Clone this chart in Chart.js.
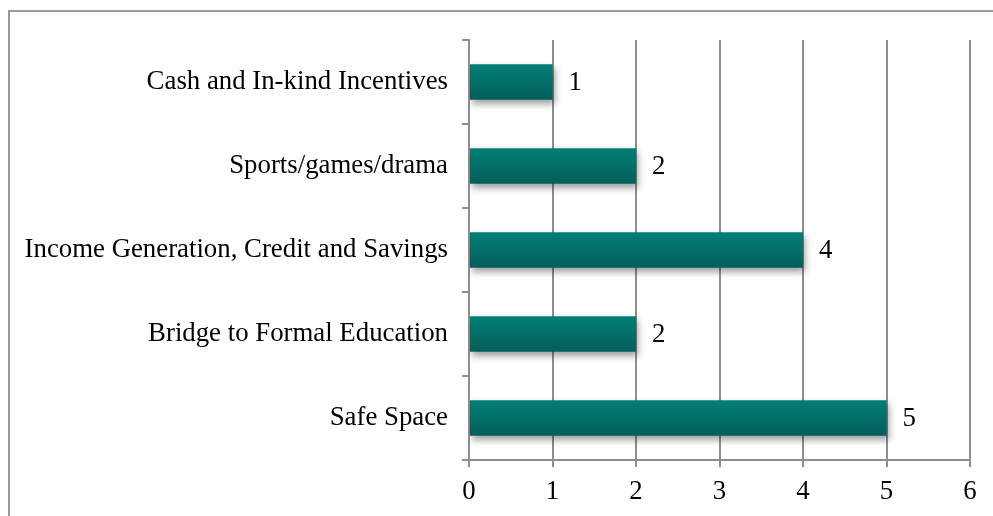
<!DOCTYPE html>
<html>
<head>
<meta charset="utf-8">
<script src="https://cdn.jsdelivr.net/npm/chart.js@4.4.1/dist/chart.umd.min.js"></script>
<style>
  html, body { margin: 0; padding: 0; background: #fff; }
  #wrap { width: 993px; height: 516px; position: relative; }
</style>
</head>
<body>
<div id="wrap"><canvas id="barChart" width="993" height="516"></canvas></div>
<script>
// categorias y valores (de arriba hacia abajo)
const categories = [
    'Cash and In-kind Incentives',
    'Sports/games/drama',
    'Income Generation, Credit and Savings',
    'Bridge to Formal Education',
    'Safe Space'
];
const values = [1, 2, 4, 2, 5];
const xTicks = [0, 1, 2, 3, 4, 5, 6];

const gridColor = '#8e8e8e';
const serif = '"Liberation Serif", "Times New Roman", serif';
const fontSize = 26.8;

// marco exterior (solo arriba e izquierda visibles)
const framePlugin = {
    id: 'frame',
    beforeDraw(chart) {
        const c = chart.ctx;
        c.save();
        c.strokeStyle = '#9a9a9a';
        c.lineWidth = 2;
        c.beginPath();
        c.moveTo(9, 600);
        c.lineTo(9, 11);
        c.lineTo(1100, 11);
        c.stroke();
        c.restore();
    }
};

// degradado y sombra de las barras
const barStyle = {
    id: 'barStyle',
    beforeDatasetsDraw(chart) {
        const c = chart.ctx;
        chart.getDatasetMeta(0).data.forEach(bar => {
            const top = bar.y - bar.height / 2;
            const g = c.createLinearGradient(0, top, 0, top + bar.height);
            g.addColorStop(0, '#017f76');
            g.addColorStop(1, '#035e58');
            bar.options.backgroundColor = g;
        });
        c.save();
        c.shadowColor = 'rgba(0,0,0,0.38)';
        c.shadowBlur = 7;
        c.shadowOffsetX = 2;
        c.shadowOffsetY = 4;
    },
    afterDatasetsDraw(chart) {
        chart.ctx.restore();
    }
};

// etiquetas de valor al final de cada barra
const valueLabels = {
    id: 'valueLabels',
    afterDatasetsDraw(chart) {
        const c = chart.ctx;
        c.save();
        c.font = fontSize + 'px ' + serif;
        c.fillStyle = '#000';
        c.textAlign = 'left';
        c.textBaseline = 'middle';
        chart.getDatasetMeta(0).data.forEach((bar, i) => {
            c.fillText(String(values[i]), bar.x + 16, bar.y + 1);
        });
        c.restore();
    }
};

const ctx = document.getElementById('barChart').getContext('2d');

new Chart(ctx, {
    type: 'bar',
    data: {
        labels: categories,
        datasets: [{
            data: values,
            // funcion para que cada barra tenga sus propias opciones
            backgroundColor: () => '#02706a',
            borderWidth: 0,
            categoryPercentage: 1,
            barPercentage: 0.42
        }]
    },
    options: {
        indexAxis: 'y',
        responsive: false,
        animation: false,
        layout: { padding: { left: 0, right: 23, top: 40, bottom: 0 } },
        plugins: {
            legend: { display: false },
            tooltip: { enabled: false }
        },
        scales: {
            x: {
                min: 0,
                max: 6,
                afterFit(scale) { scale.height = 56; },
                afterBuildTicks(scale) { scale.ticks = xTicks.map(v => ({ value: v })); },
                grid: { color: gridColor, lineWidth: 2, tickLength: 7 },
                border: { color: gridColor, width: 2 },
                ticks: {
                    color: '#000',
                    padding: 9,
                    font: { family: serif, size: fontSize }
                }
            },
            y: {
                afterFit(scale) { scale.width = 469; },
                grid: { drawOnChartArea: false, color: gridColor, lineWidth: 2, tickLength: 7 },
                border: { color: gridColor, width: 2 },
                ticks: {
                    color: '#000',
                    padding: 14,
                    font: { family: serif, size: fontSize }
                }
            }
        }
    },
    plugins: [framePlugin, barStyle, valueLabels]
});
</script>
</body>
</html>
